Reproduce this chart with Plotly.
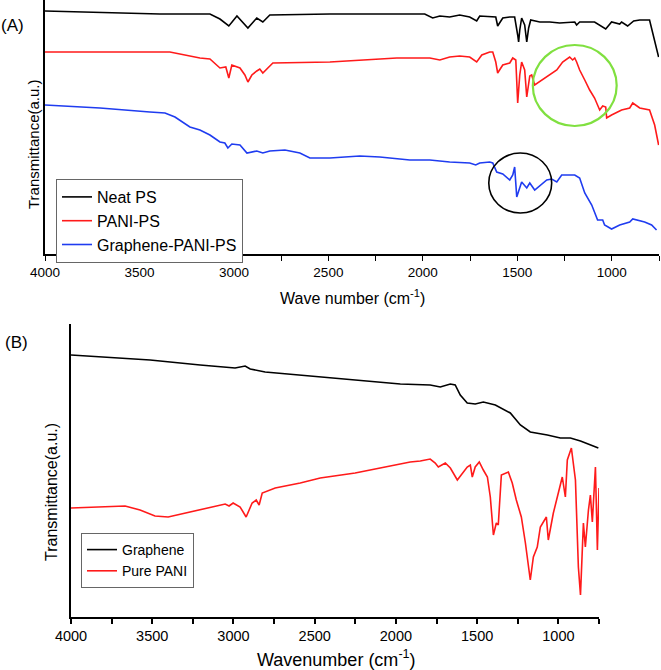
import plotly.graph_objects as go

# ---------------- Panel (A) data: wavenumber (cm-1) and transmittance (a.u.) ----------------
wn_neat_ps = [4000, 3534, 3392, 3127, 3074, 3027, 2984, 2926, 2879, 2847, 2810, 2492, 1990, 1948,
              1910, 1858, 1805, 1752, 1715, 1699, 1646, 1614, 1604, 1577, 1540, 1514, 1498, 1493,
              1487, 1477, 1461, 1450, 1440, 1429, 1381, 1328, 1276, 1196, 1186, 1170, 1091, 1032,
              1001, 958, 948, 916, 884, 852, 800, 773, 752]
t_neat_ps = [243, 241, 240, 240, 235, 228, 238, 226, 236, 232, 239, 240, 240, 236,
             238, 237, 239, 237, 233, 238, 237, 237, 228, 236, 237, 237, 219, 212,
             224, 236, 229, 212, 226, 234, 232, 232, 231, 232, 229, 232, 232, 225,
             232, 230, 232, 228, 233, 234, 234, 214, 197]

wn_pani_ps = [4000, 3339, 3180, 3127, 3074, 3043, 3027, 3011, 2968, 2942, 2926, 2905, 2879, 2863,
              2847, 2794, 2492, 2138, 1963, 1910, 1858, 1805, 1752, 1715, 1688, 1646, 1630, 1614,
              1604, 1577, 1540, 1524, 1508, 1498, 1487, 1477, 1461, 1450, 1434, 1424, 1408, 1344,
              1291, 1260, 1223, 1207, 1196, 1186, 1170, 1143, 1117, 1091, 1064, 1048, 1032, 1027,
              1001, 948, 905, 889, 852, 800, 773, 752]
t_pani_ps = [202, 202, 196, 195, 186, 187, 176, 189, 186, 179, 172, 179, 183, 185,
             181, 191, 192, 196, 196, 194, 197, 198, 197, 192, 199, 202, 202, 192,
             181, 189, 191, 196, 194, 151, 179, 192, 184, 157, 178, 179, 169, 177,
             184, 192, 197, 194, 196, 192, 184, 174, 164, 156, 144, 148, 147, 136,
             139, 144, 146, 151, 146, 144, 129, 109]

wn_gr_pani_ps = [4000, 3709, 3445, 3365, 3312, 3233, 3180, 3127, 3074, 3048, 3032, 3011, 2968, 2931,
                 2879, 2847, 2810, 2730, 2651, 2598, 2492, 2334, 2228, 2069, 1963, 1858, 1752, 1720,
                 1699, 1646, 1630, 1609, 1577, 1540, 1524, 1514, 1503, 1477, 1450, 1434, 1408, 1381,
                 1344, 1318, 1291, 1265, 1196, 1170, 1143, 1106, 1075, 1048, 1038, 1001, 958, 905,
                 889, 826, 789, 763]
t_gr_pani_ps = [149, 146, 142, 141, 137, 127, 124, 119, 112, 111, 106, 110, 109, 101,
                103, 101, 103, 104, 101, 96, 96, 98, 97, 94, 94, 92, 91, 89,
                91, 92, 91, 82, 80, 74, 79, 87, 57, 72, 66, 71, 64, 68,
                74, 75, 72, 79, 79, 76, 61, 49, 34, 34, 29, 25, 29, 32,
                35, 32, 29, 24]

# ---------------- Panel (B) data ----------------
wn_graphene = [4000, 3821, 3513, 3205, 2990, 2928, 2897, 2805, 2404, 2097, 1973, 1789, 1727, 1665,
               1635, 1604, 1561, 1512, 1462, 1388, 1296, 1234, 1173, 1068, 988, 926, 864, 754]
t_graphene = [262, 260, 257, 252, 249, 251, 248, 245, 239, 235, 233, 232, 230, 233,
              232, 222, 214, 213, 215, 212, 204, 192, 185, 182, 179, 179, 176, 169]

wn_pure_pani = [4000, 3821, 3667, 3575, 3483, 3402, 3267, 3205, 3113, 3051, 3027, 3002, 2959, 2922,
                2885, 2860, 2842, 2823, 2743, 2589, 2466, 2343, 2251, 2097, 1912, 1850, 1789, 1758,
                1739, 1696, 1665, 1622, 1561, 1542, 1530, 1512, 1487, 1462, 1437, 1419, 1400, 1382,
                1370, 1351, 1327, 1308, 1284, 1259, 1228, 1203, 1173, 1154, 1130, 1111, 1074, 1062,
                1031, 1000, 976, 957, 945, 920, 895, 877, 864, 846, 834, 815, 803, 791, 772, 760, 750]
t_pure_pani = [109, 110, 111, 107, 101, 100, 105, 107, 111, 113, 111, 114, 110, 100,
               114, 117, 112, 124, 129, 134, 139, 142, 144, 149, 155, 156, 158, 154,
               150, 154, 149, 137, 150, 152, 140, 150, 155, 147, 140, 120, 82, 94,
               92, 142, 144, 145, 134, 117, 100, 74, 37, 60, 70, 90, 100, 77,
               104, 124, 140, 120, 157, 169, 137, 50, 22, 94, 70, 107, 122, 95, 150, 67, 129]

# ---------------- labels ----------------
names_a = ["Neat PS", "PANI-PS", "Graphene-PANI-PS"]
names_b = ["Graphene", "Pure PANI"]
colors_a = ["#000000", "#ff1a1a", "#1f3cf0"]
colors_b = ["#000000", "#ff1a1a"]
x_title_a = "Wave number (cm<sup>-1</sup>)"
x_title_b = "Wavenumber (cm<sup>-1</sup>)"
y_title = "Transmittance(a.u.)"

# highlighted regions (data coordinates)
green_circle = dict(x0=1418, x1=974, y0=128, y1=209)
black_circle = dict(x0=1651, x1=1318, y0=41, y1=101)

FONT = "Arial, Liberation Sans, sans-serif"

fig = go.Figure()

for wn, t, nm, c in zip([wn_neat_ps, wn_pani_ps, wn_gr_pani_ps],
                        [t_neat_ps, t_pani_ps, t_gr_pani_ps], names_a, colors_a):
    fig.add_trace(go.Scatter(x=wn, y=t, mode="lines", name=nm, line=dict(color=c, width=1.6),
                             xaxis="x", yaxis="y", legend="legend"))

for wn, t, nm, c in zip([wn_graphene, wn_pure_pani], [t_graphene, t_pure_pani], names_b, colors_b):
    fig.add_trace(go.Scatter(x=wn, y=t, mode="lines", name=nm, line=dict(color=c, width=1.6),
                             xaxis="x2", yaxis="y2", legend="legend2"))

xcommon = dict(range=[4000, 750], dtick=500, tick0=0, ticks="outside", ticklen=5,
               showline=True, linecolor="black", showgrid=False, zeroline=False,
               tickcolor="black", automargin=False,
               minor=dict(dtick=250, tick0=0, ticks="outside", ticklen=5, tickcolor="black", showgrid=False))
ycommon = dict(showline=True, linecolor="black", showgrid=False, zeroline=False,
               showticklabels=False, ticks="", automargin=False)

fig.update_layout(
    template="none",
    width=661, height=670,
    margin=dict(l=0, r=0, t=0, b=0, pad=0),
    paper_bgcolor="white", plot_bgcolor="white",
    font=dict(family=FONT, color="black"),
    xaxis=dict(domain=[45 / 661, 659 / 661], anchor="y", linewidth=1.6, tickwidth=1.4,
               tickfont=dict(size=13.5, family=FONT), **xcommon),
    yaxis=dict(domain=[1 - 254 / 670, 1.0], anchor="x", range=[0, 254], linewidth=1.6, **ycommon),
    xaxis2=dict(domain=[71 / 661, 599 / 661], anchor="y2", linewidth=2, tickwidth=1.6,
                tickfont=dict(size=14.5, family=FONT), **xcommon),
    yaxis2=dict(domain=[1 - 617 / 670, 1 - 324 / 670], anchor="x2", range=[0, 293], linewidth=2,
                **ycommon),
    legend=dict(x=56 / 661, y=1 - 179 / 670, xanchor="left", yanchor="top",
                bgcolor="white", bordercolor="#666666", borderwidth=1,
                font=dict(size=16, family=FONT), tracegroupgap=0, itemwidth=30),
    legend2=dict(x=81 / 661, y=1 - 533 / 670, xanchor="left", yanchor="top",
                 bgcolor="white", bordercolor="#666666", borderwidth=1,
                 font=dict(size=14, family=FONT), tracegroupgap=0, itemwidth=30),
    showlegend=True,
)

fig.add_shape(type="circle", xref="x", yref="y", line=dict(color="#80e040", width=2.2), **green_circle)
fig.add_shape(type="circle", xref="x", yref="y", line=dict(color="black", width=1.6), **black_circle)

ann = [
    dict(text="(A)", x=12 / 661, y=1 - 26 / 670, size=17, angle=0),
    dict(text="(B)", x=16 / 661, y=1 - 342 / 670, size=17, angle=0),
    dict(text=x_title_a, x=352 / 661, y=1 - 297 / 670, size=16, angle=0),
    dict(text=x_title_b, x=336 / 661, y=1 - 658 / 670, size=18, angle=0),
    dict(text=y_title, x=33 / 661, y=1 - 144 / 670, size=15, angle=-90),
    dict(text=y_title, x=51 / 661, y=1 - 492 / 670, size=16, angle=-90),
]
for a in ann:
    fig.add_annotation(text=a["text"], x=a["x"], y=a["y"], xref="paper", yref="paper",
                       xanchor="center", yanchor="middle", showarrow=False, textangle=a["angle"],
                       font=dict(size=a["size"], family=FONT, color="black"))

fig.write_html("out.html", config={"displayModeBar": False},
               post_script="document.body.style.margin='0';document.body.style.overflow='hidden';")
